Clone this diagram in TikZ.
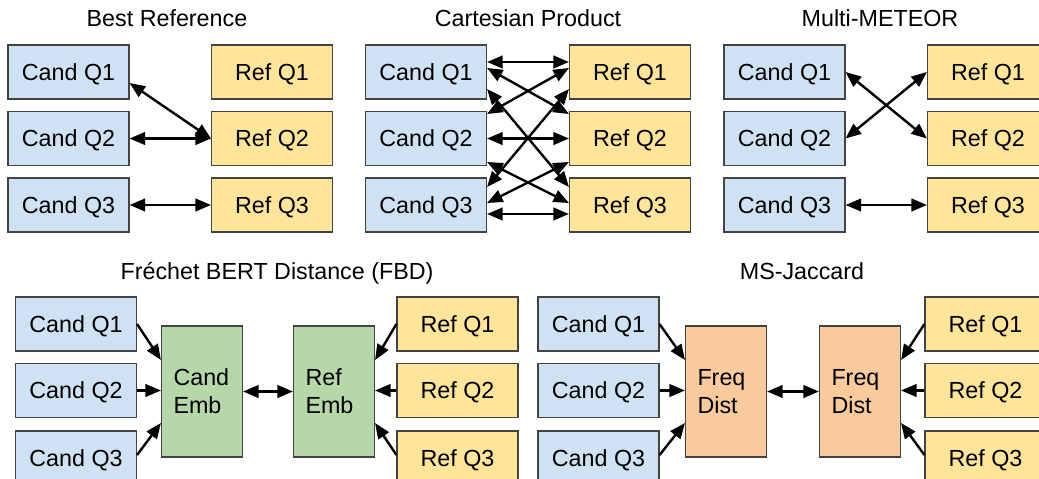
\documentclass[tikz,border=0pt]{standalone}
\usepackage{fontspec}
\setmainfont{Liberation Sans}
\usetikzlibrary{arrows.meta,calc}
\definecolor{candfill}{HTML}{CFE2F3}
\definecolor{reffill}{HTML}{FFE599}
\definecolor{embfill}{HTML}{B6D7A8}
\definecolor{distfill}{HTML}{F9CB9C}
\definecolor{edgegray}{HTML}{434343}

\begin{document}
\begin{tikzpicture}[x=1pt,y=-1pt,
  font=\fontsize{23.3}{28}\selectfont,
  box/.style={draw=edgegray,line width=1.1pt,minimum width=121pt,minimum height=54pt,
    inner sep=0pt,text height=16.7pt,text depth=0pt},
  cand/.style={box,fill=candfill},
  refq/.style={box,fill=reffill},
  agg/.style={draw=edgegray,line width=1.1pt,minimum height=131pt,text width=57pt,
    inner xsep=12pt,inner ysep=0pt,align=left},
  emb/.style={agg,fill=embfill},
  dist/.style={agg,fill=distfill},
  title/.style={anchor=base},
  tip/.tip={Triangle[length=15.5pt,width=12.5pt]},
  link/.style={line width=2.4pt,tip-tip},
  feed/.style={line width=2.4pt,-tip},
]
\clip (0,0) rectangle (1039,479);
\fill[white] (0,0) rectangle (1039,479);

% ---------- Best Reference ----------
\node[title] (tbest) at (167,26) {Best Reference};
\node[cand] (bc1) at (68.5,72)  {Cand Q1};
\node[cand] (bc2) at (68.5,138.5) {Cand Q2};
\node[cand] (bc3) at (68.5,205) {Cand Q3};
\node[refq] (br1) at (272,72)  {Ref Q1};
\node[refq] (br2) at (272,138.5) {Ref Q2};
\node[refq] (br3) at (272,205) {Ref Q3};
\draw[link] ($(bc1.east)+(0,11)$) -- (br2.west);
\draw[link] (bc2.east) -- (br2.west);
\draw[link] (bc3.east) -- (br3.west);

% ---------- Cartesian Product ----------
\node[title] (tcart) at (528,26) {Cartesian Product};
\node[cand] (cc1) at (426,72)  {Cand Q1};
\node[cand] (cc2) at (426,138.5) {Cand Q2};
\node[cand] (cc3) at (426,205) {Cand Q3};
\node[refq] (cr1) at (630,72)  {Ref Q1};
\node[refq] (cr2) at (630,138.5) {Ref Q2};
\node[refq] (cr3) at (630,205) {Ref Q3};
\draw[link] ($(cc1.east)+(0,-10)$) -- ($(cr1.west)+(0,-10)$);
\draw[link] ($(cc1.east)+(0,-4)$) -- ($(cr2.west)+(0,-24.5)$);
\draw[link] ($(cc1.east)+(0,17)$) -- ($(cr3.west)+(0,-18)$);
\draw[link] ($(cc2.east)+(0,-24.5)$) -- ($(cr1.west)+(0,-4)$);
\draw[link] (cc2.east) -- (cr2.west);
\draw[link] ($(cc2.east)+(0,23.5)$) -- ($(cr3.west)+(0,-2)$);
\draw[link] ($(cc3.east)+(0,-18)$) -- ($(cr1.west)+(0,17)$);
\draw[link] ($(cc3.east)+(0,-2)$) -- ($(cr2.west)+(0,23.5)$);
\draw[link] ($(cc3.east)+(0,9)$) -- ($(cr3.west)+(0,9)$);

% ---------- Multi-METEOR ----------
\node[title] (tmeteor) at (880,26) {Multi-METEOR};
\node[cand] (mc1) at (784.5,72)  {Cand Q1};
\node[cand] (mc2) at (784.5,138.5) {Cand Q2};
\node[cand] (mc3) at (784.5,205) {Cand Q3};
\node[refq] (mr1) at (988,72)  {Ref Q1};
\node[refq] (mr2) at (988,138.5) {Ref Q2};
\node[refq] (mr3) at (988,205) {Ref Q3};
\draw[link] (mc1.east) -- (mr2.west);
\draw[link] (mc2.east) -- (mr1.west);
\draw[link] (mc3.east) -- (mr3.west);

% ---------- Frechet BERT Distance ----------
\node[title] (tfbd) at (277,279) {Fréchet BERT Distance (FBD)};
\node[cand] (fc1) at (76,324)   {Cand Q1};
\node[cand] (fc2) at (76,390.5) {Cand Q2};
\node[cand] (fc3) at (76,458)   {Cand Q3};
\node[emb]  (fce) at (202,391.5) {Cand\\Emb};
\node[emb]  (fre) at (334,391.5) {Ref\\Emb};
\node[refq] (fr1) at (457.5,324)   {Ref Q1};
\node[refq] (fr2) at (457.5,390.5) {Ref Q2};
\node[refq] (fr3) at (457.5,458)   {Ref Q3};
\draw[feed] (fc1.east) -- ($(fce.west)+(0,-31.5)$);
\draw[feed] (fc2.east) -- ($(fce.west)+(0,-1)$);
\draw[feed] ($(fc3.east)+(0,-3)$) -- ($(fce.west)+(0,31.5)$);
\draw[link] (fce.east) -- (fre.west);
\draw[feed] (fr1.west) -- ($(fre.east)+(0,-31.5)$);
\draw[feed] (fr2.west) -- ($(fre.east)+(0,-1)$);
\draw[feed] ($(fr3.west)+(0,-3)$) -- ($(fre.east)+(0,31.5)$);

% ---------- MS-Jaccard ----------
\node[title] (tjac) at (802,279) {MS-Jaccard};
\node[cand] (jc1) at (598.5,324)   {Cand Q1};
\node[cand] (jc2) at (598.5,390.5) {Cand Q2};
\node[cand] (jc3) at (598.5,458)   {Cand Q3};
\node[dist] (jcd) at (726,391.5) {Freq\\Dist};
\node[dist] (jrd) at (860,391.5) {Freq\\Dist};
\node[refq] (jr1) at (985.5,324)   {Ref Q1};
\node[refq] (jr2) at (985.5,390.5) {Ref Q2};
\node[refq] (jr3) at (985.5,458)   {Ref Q3};
\draw[feed] (jc1.east) -- ($(jcd.west)+(0,-31.5)$);
\draw[feed] (jc2.east) -- ($(jcd.west)+(0,-1)$);
\draw[feed] ($(jc3.east)+(0,-3)$) -- ($(jcd.west)+(0,31.5)$);
\draw[link] (jcd.east) -- (jrd.west);
\draw[feed] (jr1.west) -- ($(jrd.east)+(0,-31.5)$);
\draw[feed] (jr2.west) -- ($(jrd.east)+(0,-1)$);
\draw[feed] ($(jr3.west)+(0,-3)$) -- ($(jrd.east)+(0,31.5)$);
\end{tikzpicture}
\end{document}
